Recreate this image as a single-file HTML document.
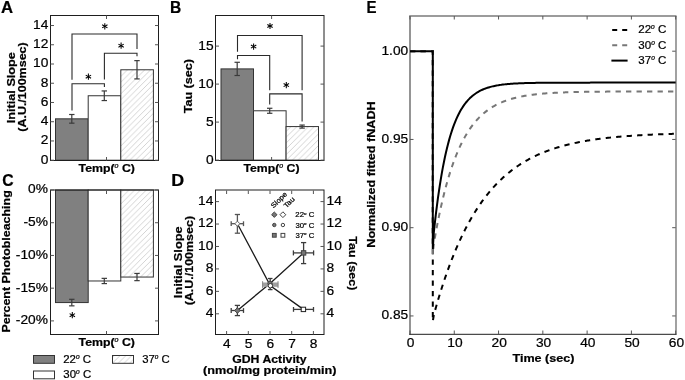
<!DOCTYPE html><html><head><meta charset="utf-8"><style>html,body{margin:0;padding:0;background:#fff;width:685px;height:380px;overflow:hidden} text{stroke:#000;stroke-width:0.22px}</style></head><body><svg width="685" height="380" viewBox="0 0 685 380" style="position:absolute;left:0;top:0;filter:grayscale(1)">
<defs><pattern id="hatch" patternUnits="userSpaceOnUse" width="5.8" height="5.8"><path d="M-1,1 L1,-1 M0,5.8 L5.8,0 M4.8,6.8 L6.8,4.8" stroke="#cfcfcf" stroke-width="0.9"/></pattern></defs>
<g style="font-family:'Liberation Sans', sans-serif">
<rect x="0" y="0" width="685" height="380" fill="#fff"/>
<rect x="55.50" y="118.83" width="32.70" height="41.37" fill="#fff" stroke="none" stroke-width="1" />
<rect x="55.50" y="118.83" width="32.70" height="41.37" fill="#808080" stroke="#333" stroke-width="1" />
<rect x="88.20" y="95.75" width="32.60" height="64.45" fill="#fff" stroke="none" stroke-width="1" />
<rect x="88.20" y="95.75" width="32.60" height="64.45" fill="#fff" stroke="#333" stroke-width="1" />
<rect x="120.80" y="69.77" width="32.60" height="90.43" fill="#fff" stroke="none" stroke-width="1" />
<rect x="120.80" y="69.77" width="32.60" height="90.43" fill="url(#hatch)" stroke="#333" stroke-width="1" />
<line x1="71.80" y1="114.50" x2="71.80" y2="123.16" stroke="#3a3a3a" stroke-width="1.2" />
<line x1="69.10" y1="114.50" x2="74.50" y2="114.50" stroke="#3a3a3a" stroke-width="1.2" />
<line x1="69.10" y1="123.16" x2="74.50" y2="123.16" stroke="#3a3a3a" stroke-width="1.2" />
<line x1="104.30" y1="90.94" x2="104.30" y2="100.56" stroke="#3a3a3a" stroke-width="1.2" />
<line x1="101.60" y1="90.94" x2="107.00" y2="90.94" stroke="#3a3a3a" stroke-width="1.2" />
<line x1="101.60" y1="100.56" x2="107.00" y2="100.56" stroke="#3a3a3a" stroke-width="1.2" />
<line x1="137.00" y1="60.63" x2="137.00" y2="78.91" stroke="#3a3a3a" stroke-width="1.2" />
<line x1="134.30" y1="60.63" x2="139.70" y2="60.63" stroke="#3a3a3a" stroke-width="1.2" />
<line x1="134.30" y1="78.91" x2="139.70" y2="78.91" stroke="#3a3a3a" stroke-width="1.2" />
<polyline points="72.00,79.80 72.00,34.00 137.00,34.00 137.00,49.00" fill="none" stroke="#2a2a2a" stroke-width="1.1" />
<polyline points="104.40,79.60 104.40,53.20 137.00,53.20 137.00,56.30" fill="none" stroke="#2a2a2a" stroke-width="1.1" />
<polyline points="72.00,110.60 72.00,83.70 104.40,83.70 104.40,87.00" fill="none" stroke="#2a2a2a" stroke-width="1.1" />
<line x1="104.80" y1="23.20" x2="104.80" y2="29.40" stroke="#000" stroke-width="1.05" />
<line x1="102.12" y1="24.75" x2="107.48" y2="27.85" stroke="#000" stroke-width="1.05" />
<line x1="107.48" y1="24.75" x2="102.12" y2="27.85" stroke="#000" stroke-width="1.05" />
<line x1="121.10" y1="42.60" x2="121.10" y2="48.80" stroke="#000" stroke-width="1.05" />
<line x1="118.42" y1="44.15" x2="123.78" y2="47.25" stroke="#000" stroke-width="1.05" />
<line x1="123.78" y1="44.15" x2="118.42" y2="47.25" stroke="#000" stroke-width="1.05" />
<line x1="88.40" y1="73.60" x2="88.40" y2="79.80" stroke="#000" stroke-width="1.05" />
<line x1="85.72" y1="75.15" x2="91.08" y2="78.25" stroke="#000" stroke-width="1.05" />
<line x1="91.08" y1="75.15" x2="85.72" y2="78.25" stroke="#000" stroke-width="1.05" />
<rect x="50.50" y="15.50" width="108.00" height="145.00" fill="none" stroke="#1e1e1e" stroke-width="1" />
<line x1="50.50" y1="160.20" x2="54.00" y2="160.20" stroke="#555" stroke-width="1" />
<line x1="158.50" y1="160.20" x2="155.00" y2="160.20" stroke="#555" stroke-width="1" />
<text x="0" y="0" font-size="12.5" text-anchor="end" fill="#000" transform="matrix(1.1,0,0,1,48.30,163.60)">0</text>
<line x1="50.50" y1="140.96" x2="54.00" y2="140.96" stroke="#555" stroke-width="1" />
<line x1="158.50" y1="140.96" x2="155.00" y2="140.96" stroke="#555" stroke-width="1" />
<text x="0" y="0" font-size="12.5" text-anchor="end" fill="#000" transform="matrix(1.1,0,0,1,48.30,144.36)">2</text>
<line x1="50.50" y1="121.72" x2="54.00" y2="121.72" stroke="#555" stroke-width="1" />
<line x1="158.50" y1="121.72" x2="155.00" y2="121.72" stroke="#555" stroke-width="1" />
<text x="0" y="0" font-size="12.5" text-anchor="end" fill="#000" transform="matrix(1.1,0,0,1,48.30,125.12)">4</text>
<line x1="50.50" y1="102.48" x2="54.00" y2="102.48" stroke="#555" stroke-width="1" />
<line x1="158.50" y1="102.48" x2="155.00" y2="102.48" stroke="#555" stroke-width="1" />
<text x="0" y="0" font-size="12.5" text-anchor="end" fill="#000" transform="matrix(1.1,0,0,1,48.30,105.88)">6</text>
<line x1="50.50" y1="83.24" x2="54.00" y2="83.24" stroke="#555" stroke-width="1" />
<line x1="158.50" y1="83.24" x2="155.00" y2="83.24" stroke="#555" stroke-width="1" />
<text x="0" y="0" font-size="12.5" text-anchor="end" fill="#000" transform="matrix(1.1,0,0,1,48.30,86.64)">8</text>
<line x1="50.50" y1="64.00" x2="54.00" y2="64.00" stroke="#555" stroke-width="1" />
<line x1="158.50" y1="64.00" x2="155.00" y2="64.00" stroke="#555" stroke-width="1" />
<text x="0" y="0" font-size="12.5" text-anchor="end" fill="#000" transform="matrix(1.1,0,0,1,48.30,67.40)">10</text>
<line x1="50.50" y1="44.76" x2="54.00" y2="44.76" stroke="#555" stroke-width="1" />
<line x1="158.50" y1="44.76" x2="155.00" y2="44.76" stroke="#555" stroke-width="1" />
<text x="0" y="0" font-size="12.5" text-anchor="end" fill="#000" transform="matrix(1.1,0,0,1,48.30,48.16)">12</text>
<line x1="50.50" y1="25.52" x2="54.00" y2="25.52" stroke="#555" stroke-width="1" />
<line x1="158.50" y1="25.52" x2="155.00" y2="25.52" stroke="#555" stroke-width="1" />
<text x="0" y="0" font-size="12.5" text-anchor="end" fill="#000" transform="matrix(1.1,0,0,1,48.30,28.92)">14</text>
<line x1="106.50" y1="160.50" x2="106.50" y2="157.00" stroke="#555" stroke-width="1" />
<line x1="106.50" y1="15.50" x2="106.50" y2="19.00" stroke="#555" stroke-width="1" />
<text x="0" y="0" font-size="16.80" font-weight="bold" fill="#000" transform="matrix(0.9950,0,0,1,0.98,12.50)" stroke="#000" stroke-width="0.35">A</text>
<text x="0" y="0" font-size="10.90" font-weight="bold" fill="#000" transform="matrix(0,-1.1639,1,0,14.80,123.22)" >Initial Slope</text>
<text x="0" y="0" font-size="10.90" font-weight="bold" fill="#000" transform="matrix(0,-1.1445,1,0,26.30,131.72)" >(A.U./100msec)</text>
<text x="0" y="0" font-size="10.90" fill="#000" transform="matrix(1.1293,0,0,1,78.58,171.80)"><tspan font-weight="bold" font-size="10.90" dy="0.00">Temp(</tspan><tspan font-weight="normal" font-style="italic" font-size="6.32" dy="-3.92">o</tspan><tspan font-weight="bold" font-size="10.90" dy="3.92"> C)</tspan></text>
<rect x="221.00" y="68.90" width="32.50" height="91.20" fill="#fff" stroke="none" stroke-width="1" />
<rect x="221.00" y="68.90" width="32.50" height="91.20" fill="#808080" stroke="#333" stroke-width="1" />
<rect x="253.50" y="110.78" width="32.60" height="49.32" fill="#fff" stroke="none" stroke-width="1" />
<rect x="253.50" y="110.78" width="32.60" height="49.32" fill="#fff" stroke="#333" stroke-width="1" />
<rect x="286.10" y="126.58" width="32.40" height="33.52" fill="#fff" stroke="none" stroke-width="1" />
<rect x="286.10" y="126.58" width="32.40" height="33.52" fill="url(#hatch)" stroke="#333" stroke-width="1" />
<line x1="237.20" y1="62.29" x2="237.20" y2="75.51" stroke="#3a3a3a" stroke-width="1.2" />
<line x1="234.50" y1="62.29" x2="239.90" y2="62.29" stroke="#3a3a3a" stroke-width="1.2" />
<line x1="234.50" y1="75.51" x2="239.90" y2="75.51" stroke="#3a3a3a" stroke-width="1.2" />
<line x1="269.70" y1="108.27" x2="269.70" y2="113.28" stroke="#3a3a3a" stroke-width="1.2" />
<line x1="267.00" y1="108.27" x2="272.40" y2="108.27" stroke="#3a3a3a" stroke-width="1.2" />
<line x1="267.00" y1="113.28" x2="272.40" y2="113.28" stroke="#3a3a3a" stroke-width="1.2" />
<line x1="302.10" y1="125.06" x2="302.10" y2="128.10" stroke="#3a3a3a" stroke-width="1.2" />
<line x1="299.40" y1="125.06" x2="304.80" y2="125.06" stroke="#3a3a3a" stroke-width="1.2" />
<line x1="299.40" y1="128.10" x2="304.80" y2="128.10" stroke="#3a3a3a" stroke-width="1.2" />
<polyline points="237.50,51.80 237.50,35.50 302.10,35.50 302.10,90.30" fill="none" stroke="#2a2a2a" stroke-width="1.1" />
<polyline points="237.50,59.20 237.50,55.50 269.70,55.50 269.70,90.30" fill="none" stroke="#2a2a2a" stroke-width="1.1" />
<polyline points="269.70,104.50 269.70,93.90 302.10,93.90 302.10,121.50" fill="none" stroke="#2a2a2a" stroke-width="1.1" />
<line x1="270.00" y1="22.90" x2="270.00" y2="29.10" stroke="#000" stroke-width="1.05" />
<line x1="267.32" y1="24.45" x2="272.68" y2="27.55" stroke="#000" stroke-width="1.05" />
<line x1="272.68" y1="24.45" x2="267.32" y2="27.55" stroke="#000" stroke-width="1.05" />
<line x1="253.60" y1="43.50" x2="253.60" y2="49.70" stroke="#000" stroke-width="1.05" />
<line x1="250.92" y1="45.05" x2="256.28" y2="48.15" stroke="#000" stroke-width="1.05" />
<line x1="256.28" y1="45.05" x2="250.92" y2="48.15" stroke="#000" stroke-width="1.05" />
<line x1="286.30" y1="82.00" x2="286.30" y2="88.20" stroke="#000" stroke-width="1.05" />
<line x1="283.62" y1="83.55" x2="288.98" y2="86.65" stroke="#000" stroke-width="1.05" />
<line x1="288.98" y1="83.55" x2="283.62" y2="86.65" stroke="#000" stroke-width="1.05" />
<rect x="215.50" y="15.50" width="108.50" height="145.00" fill="none" stroke="#1e1e1e" stroke-width="1" />
<line x1="215.50" y1="160.10" x2="219.00" y2="160.10" stroke="#555" stroke-width="1" />
<line x1="324.00" y1="160.10" x2="320.50" y2="160.10" stroke="#555" stroke-width="1" />
<text x="0" y="0" font-size="12.5" text-anchor="end" fill="#000" transform="matrix(1.1,0,0,1,213.60,163.50)">0</text>
<line x1="215.50" y1="122.10" x2="219.00" y2="122.10" stroke="#555" stroke-width="1" />
<line x1="324.00" y1="122.10" x2="320.50" y2="122.10" stroke="#555" stroke-width="1" />
<text x="0" y="0" font-size="12.5" text-anchor="end" fill="#000" transform="matrix(1.1,0,0,1,213.60,125.50)">5</text>
<line x1="215.50" y1="84.10" x2="219.00" y2="84.10" stroke="#555" stroke-width="1" />
<line x1="324.00" y1="84.10" x2="320.50" y2="84.10" stroke="#555" stroke-width="1" />
<text x="0" y="0" font-size="12.5" text-anchor="end" fill="#000" transform="matrix(1.1,0,0,1,213.60,87.50)">10</text>
<line x1="215.50" y1="46.10" x2="219.00" y2="46.10" stroke="#555" stroke-width="1" />
<line x1="324.00" y1="46.10" x2="320.50" y2="46.10" stroke="#555" stroke-width="1" />
<text x="0" y="0" font-size="12.5" text-anchor="end" fill="#000" transform="matrix(1.1,0,0,1,213.60,49.50)">15</text>
<line x1="271.60" y1="160.50" x2="271.60" y2="157.00" stroke="#555" stroke-width="1" />
<line x1="271.60" y1="15.50" x2="271.60" y2="19.00" stroke="#555" stroke-width="1" />
<text x="0" y="0" font-size="16.80" font-weight="bold" fill="#000" transform="matrix(0.9270,0,0,1,170.09,12.50)" stroke="#000" stroke-width="0.35">B</text>
<text x="0" y="0" font-size="10.90" font-weight="bold" fill="#000" transform="matrix(0,-1.1565,1,0,192.00,113.33)" >Tau (sec)</text>
<text x="0" y="0" font-size="10.90" fill="#000" transform="matrix(1.1232,0,0,1,243.48,171.70)"><tspan font-weight="bold" font-size="10.90" dy="0.00">Temp(</tspan><tspan font-weight="normal" font-style="italic" font-size="6.32" dy="-3.92">o</tspan><tspan font-weight="bold" font-size="10.90" dy="3.92"> C)</tspan></text>
<rect x="55.50" y="190.00" width="32.70" height="112.57" fill="#fff" stroke="none" stroke-width="1" />
<rect x="55.50" y="190.00" width="32.70" height="112.57" fill="#808080" stroke="#333" stroke-width="1" />
<rect x="88.20" y="190.00" width="32.60" height="90.98" fill="#fff" stroke="none" stroke-width="1" />
<rect x="88.20" y="190.00" width="32.60" height="90.98" fill="#fff" stroke="#333" stroke-width="1" />
<rect x="120.80" y="190.00" width="32.60" height="87.05" fill="#fff" stroke="none" stroke-width="1" />
<rect x="120.80" y="190.00" width="32.60" height="87.05" fill="url(#hatch)" stroke="#333" stroke-width="1" />
<line x1="71.80" y1="299.30" x2="71.80" y2="305.85" stroke="#3a3a3a" stroke-width="1.2" />
<line x1="69.10" y1="299.30" x2="74.50" y2="299.30" stroke="#3a3a3a" stroke-width="1.2" />
<line x1="69.10" y1="305.85" x2="74.50" y2="305.85" stroke="#3a3a3a" stroke-width="1.2" />
<line x1="104.30" y1="278.36" x2="104.30" y2="283.59" stroke="#3a3a3a" stroke-width="1.2" />
<line x1="101.60" y1="278.36" x2="107.00" y2="278.36" stroke="#3a3a3a" stroke-width="1.2" />
<line x1="101.60" y1="283.59" x2="107.00" y2="283.59" stroke="#3a3a3a" stroke-width="1.2" />
<line x1="137.00" y1="273.45" x2="137.00" y2="280.65" stroke="#3a3a3a" stroke-width="1.2" />
<line x1="134.30" y1="273.45" x2="139.70" y2="273.45" stroke="#3a3a3a" stroke-width="1.2" />
<line x1="134.30" y1="280.65" x2="139.70" y2="280.65" stroke="#3a3a3a" stroke-width="1.2" />
<line x1="72.30" y1="312.10" x2="72.30" y2="318.30" stroke="#000" stroke-width="1.05" />
<line x1="69.62" y1="313.65" x2="74.98" y2="316.75" stroke="#000" stroke-width="1.05" />
<line x1="74.98" y1="313.65" x2="69.62" y2="316.75" stroke="#000" stroke-width="1.05" />
<rect x="50.50" y="190.00" width="108.00" height="144.50" fill="none" stroke="#1e1e1e" stroke-width="1" />
<line x1="50.50" y1="190.00" x2="54.00" y2="190.00" stroke="#555" stroke-width="1" />
<line x1="158.50" y1="190.00" x2="155.00" y2="190.00" stroke="#555" stroke-width="1" />
<text x="0" y="0" font-size="12.5" text-anchor="end" fill="#000" transform="matrix(1.1,0,0,1,47.90,193.40)">0%</text>
<line x1="50.50" y1="222.72" x2="54.00" y2="222.72" stroke="#555" stroke-width="1" />
<line x1="158.50" y1="222.72" x2="155.00" y2="222.72" stroke="#555" stroke-width="1" />
<text x="0" y="0" font-size="12.5" text-anchor="end" fill="#000" transform="matrix(1.1,0,0,1,47.90,226.12)">-5%</text>
<line x1="50.50" y1="255.45" x2="54.00" y2="255.45" stroke="#555" stroke-width="1" />
<line x1="158.50" y1="255.45" x2="155.00" y2="255.45" stroke="#555" stroke-width="1" />
<text x="0" y="0" font-size="12.5" text-anchor="end" fill="#000" transform="matrix(1.1,0,0,1,47.90,258.85)">-10%</text>
<line x1="50.50" y1="288.18" x2="54.00" y2="288.18" stroke="#555" stroke-width="1" />
<line x1="158.50" y1="288.18" x2="155.00" y2="288.18" stroke="#555" stroke-width="1" />
<text x="0" y="0" font-size="12.5" text-anchor="end" fill="#000" transform="matrix(1.1,0,0,1,47.90,291.57)">-15%</text>
<line x1="50.50" y1="320.90" x2="54.00" y2="320.90" stroke="#555" stroke-width="1" />
<line x1="158.50" y1="320.90" x2="155.00" y2="320.90" stroke="#555" stroke-width="1" />
<text x="0" y="0" font-size="12.5" text-anchor="end" fill="#000" transform="matrix(1.1,0,0,1,47.90,324.30)">-20%</text>
<line x1="106.50" y1="334.50" x2="106.50" y2="331.00" stroke="#555" stroke-width="1" />
<line x1="106.50" y1="190.50" x2="106.50" y2="194.00" stroke="#555" stroke-width="1" />
<text x="0" y="0" font-size="16.80" font-weight="bold" fill="#000" transform="matrix(0.9360,0,0,1,2.37,185.50)" stroke="#000" stroke-width="0.35">C</text>
<text x="0" y="0" font-size="10.90" font-weight="bold" fill="#000" transform="matrix(0,-1.1408,1,0,9.60,332.51)" >Percent Photobleaching</text>
<text x="0" y="0" font-size="10.90" fill="#000" transform="matrix(1.1293,0,0,1,78.58,345.80)"><tspan font-weight="bold" font-size="10.90" dy="0.00">Temp(</tspan><tspan font-weight="normal" font-style="italic" font-size="6.32" dy="-3.92">o</tspan><tspan font-weight="bold" font-size="10.90" dy="3.92"> C)</tspan></text>
<rect x="33.50" y="355.50" width="21.00" height="7.80" fill="#808080" stroke="#333" stroke-width="1" />
<rect x="33.50" y="371.00" width="21.00" height="7.80" fill="#fff" stroke="#333" stroke-width="1" />
<rect x="112.50" y="355.50" width="21.00" height="7.80" fill="#fff" stroke="none" stroke-width="1" />
<rect x="112.50" y="355.50" width="21.00" height="7.80" fill="url(#hatch)" stroke="#333" stroke-width="1" />
<text x="0" y="0" font-size="11.00" fill="#000" transform="matrix(1.0428,0,0,1,63.23,362.50)"><tspan font-weight="normal" font-size="11.00" dy="0.00">22</tspan><tspan font-weight="normal" font-style="italic" font-size="6.38" dy="-3.96">o</tspan><tspan font-weight="normal" font-size="11.00" dy="3.96"> C</tspan></text>
<text x="0" y="0" font-size="11.00" fill="#000" transform="matrix(1.0384,0,0,1,63.34,378.00)"><tspan font-weight="normal" font-size="11.00" dy="0.00">30</tspan><tspan font-weight="normal" font-style="italic" font-size="6.38" dy="-3.96">o</tspan><tspan font-weight="normal" font-size="11.00" dy="3.96"> C</tspan></text>
<text x="0" y="0" font-size="11.00" fill="#000" transform="matrix(1.0307,0,0,1,142.15,362.50)"><tspan font-weight="normal" font-size="11.00" dy="0.00">37</tspan><tspan font-weight="normal" font-style="italic" font-size="6.38" dy="-3.96">o</tspan><tspan font-weight="normal" font-size="11.00" dy="3.96"> C</tspan></text>
<rect x="215.50" y="190.00" width="108.50" height="144.50" fill="none" stroke="#1e1e1e" stroke-width="1" />
<line x1="226.60" y1="334.50" x2="226.60" y2="331.00" stroke="#555" stroke-width="1" />
<line x1="226.60" y1="190.50" x2="226.60" y2="194.00" stroke="#555" stroke-width="1" />
<text x="0" y="0" font-size="12.5" text-anchor="middle" fill="#000" transform="matrix(1.1,0,0,1,226.90,347.50)">4</text>
<line x1="248.30" y1="334.50" x2="248.30" y2="331.00" stroke="#555" stroke-width="1" />
<line x1="248.30" y1="190.50" x2="248.30" y2="194.00" stroke="#555" stroke-width="1" />
<text x="0" y="0" font-size="12.5" text-anchor="middle" fill="#000" transform="matrix(1.1,0,0,1,248.60,347.50)">5</text>
<line x1="270.00" y1="334.50" x2="270.00" y2="331.00" stroke="#555" stroke-width="1" />
<line x1="270.00" y1="190.50" x2="270.00" y2="194.00" stroke="#555" stroke-width="1" />
<text x="0" y="0" font-size="12.5" text-anchor="middle" fill="#000" transform="matrix(1.1,0,0,1,270.30,347.50)">6</text>
<line x1="291.70" y1="334.50" x2="291.70" y2="331.00" stroke="#555" stroke-width="1" />
<line x1="291.70" y1="190.50" x2="291.70" y2="194.00" stroke="#555" stroke-width="1" />
<text x="0" y="0" font-size="12.5" text-anchor="middle" fill="#000" transform="matrix(1.1,0,0,1,292.00,347.50)">7</text>
<line x1="313.40" y1="334.50" x2="313.40" y2="331.00" stroke="#555" stroke-width="1" />
<line x1="313.40" y1="190.50" x2="313.40" y2="194.00" stroke="#555" stroke-width="1" />
<text x="0" y="0" font-size="12.5" text-anchor="middle" fill="#000" transform="matrix(1.1,0,0,1,313.70,347.50)">8</text>
<line x1="215.50" y1="313.80" x2="219.00" y2="313.80" stroke="#555" stroke-width="1" />
<line x1="324.00" y1="313.80" x2="320.50" y2="313.80" stroke="#555" stroke-width="1" />
<text x="0" y="0" font-size="12.5" text-anchor="end" fill="#000" transform="matrix(1.1,0,0,1,213.40,317.20)">4</text>
<text x="0" y="0" font-size="12.5" text-anchor="start" fill="#000" transform="matrix(1.1,0,0,1,326.60,317.20)">4</text>
<line x1="215.50" y1="291.36" x2="219.00" y2="291.36" stroke="#555" stroke-width="1" />
<line x1="324.00" y1="291.36" x2="320.50" y2="291.36" stroke="#555" stroke-width="1" />
<text x="0" y="0" font-size="12.5" text-anchor="end" fill="#000" transform="matrix(1.1,0,0,1,213.40,294.76)">6</text>
<text x="0" y="0" font-size="12.5" text-anchor="start" fill="#000" transform="matrix(1.1,0,0,1,326.60,294.76)">6</text>
<line x1="215.50" y1="268.92" x2="219.00" y2="268.92" stroke="#555" stroke-width="1" />
<line x1="324.00" y1="268.92" x2="320.50" y2="268.92" stroke="#555" stroke-width="1" />
<text x="0" y="0" font-size="12.5" text-anchor="end" fill="#000" transform="matrix(1.1,0,0,1,213.40,272.32)">8</text>
<text x="0" y="0" font-size="12.5" text-anchor="start" fill="#000" transform="matrix(1.1,0,0,1,326.60,272.32)">8</text>
<line x1="215.50" y1="246.48" x2="219.00" y2="246.48" stroke="#555" stroke-width="1" />
<line x1="324.00" y1="246.48" x2="320.50" y2="246.48" stroke="#555" stroke-width="1" />
<text x="0" y="0" font-size="12.5" text-anchor="end" fill="#000" transform="matrix(1.1,0,0,1,213.40,249.88)">10</text>
<text x="0" y="0" font-size="12.5" text-anchor="start" fill="#000" transform="matrix(1.1,0,0,1,326.60,249.88)">10</text>
<line x1="215.50" y1="224.04" x2="219.00" y2="224.04" stroke="#555" stroke-width="1" />
<line x1="324.00" y1="224.04" x2="320.50" y2="224.04" stroke="#555" stroke-width="1" />
<text x="0" y="0" font-size="12.5" text-anchor="end" fill="#000" transform="matrix(1.1,0,0,1,213.40,227.44)">12</text>
<text x="0" y="0" font-size="12.5" text-anchor="start" fill="#000" transform="matrix(1.1,0,0,1,326.60,227.44)">12</text>
<line x1="215.50" y1="201.60" x2="219.00" y2="201.60" stroke="#555" stroke-width="1" />
<line x1="324.00" y1="201.60" x2="320.50" y2="201.60" stroke="#555" stroke-width="1" />
<text x="0" y="0" font-size="12.5" text-anchor="end" fill="#000" transform="matrix(1.1,0,0,1,213.40,205.00)">14</text>
<text x="0" y="0" font-size="12.5" text-anchor="start" fill="#000" transform="matrix(1.1,0,0,1,326.60,205.00)">14</text>
<polyline points="237.40,310.50 270.00,283.40 303.60,252.90" fill="none" stroke="#1a1a1a" stroke-width="1.3" />
<polyline points="237.40,223.70 270.40,285.70 303.40,309.40" fill="none" stroke="#1a1a1a" stroke-width="1.3" />
<line x1="237.40" y1="305.40" x2="237.40" y2="315.60" stroke="#3c3c3c" stroke-width="1.3" />
<line x1="234.80" y1="305.40" x2="240.00" y2="305.40" stroke="#3c3c3c" stroke-width="1.3" />
<line x1="234.80" y1="315.60" x2="240.00" y2="315.60" stroke="#3c3c3c" stroke-width="1.3" />
<line x1="231.20" y1="310.50" x2="243.50" y2="310.50" stroke="#3c3c3c" stroke-width="1.3" />
<line x1="231.20" y1="308.10" x2="231.20" y2="312.90" stroke="#3c3c3c" stroke-width="1.3" />
<line x1="243.50" y1="308.10" x2="243.50" y2="312.90" stroke="#3c3c3c" stroke-width="1.3" />
<line x1="237.40" y1="214.50" x2="237.40" y2="233.20" stroke="#555" stroke-width="1.3" />
<line x1="234.80" y1="214.50" x2="240.00" y2="214.50" stroke="#555" stroke-width="1.3" />
<line x1="234.80" y1="233.20" x2="240.00" y2="233.20" stroke="#555" stroke-width="1.3" />
<line x1="231.20" y1="223.70" x2="243.50" y2="223.70" stroke="#555" stroke-width="1.3" />
<line x1="231.20" y1="221.30" x2="231.20" y2="226.10" stroke="#555" stroke-width="1.3" />
<line x1="243.50" y1="221.30" x2="243.50" y2="226.10" stroke="#555" stroke-width="1.3" />
<rect x="262.20" y="282.50" width="16.10" height="4.30" fill="#a0a0a0" stroke="none" stroke-width="1" />
<line x1="262.60" y1="281.20" x2="262.60" y2="288.00" stroke="#888" stroke-width="1.0" />
<line x1="278.00" y1="281.20" x2="278.00" y2="288.00" stroke="#888" stroke-width="1.0" />
<line x1="270.20" y1="278.50" x2="270.20" y2="289.60" stroke="#3c3c3c" stroke-width="1.3" />
<line x1="267.90" y1="278.50" x2="272.50" y2="278.50" stroke="#3c3c3c" stroke-width="1.3" />
<line x1="267.90" y1="289.60" x2="272.50" y2="289.60" stroke="#3c3c3c" stroke-width="1.3" />
<line x1="303.60" y1="242.60" x2="303.60" y2="263.60" stroke="#3c3c3c" stroke-width="1.3" />
<line x1="301.00" y1="242.60" x2="306.20" y2="242.60" stroke="#3c3c3c" stroke-width="1.3" />
<line x1="301.00" y1="263.60" x2="306.20" y2="263.60" stroke="#3c3c3c" stroke-width="1.3" />
<line x1="293.40" y1="252.90" x2="313.60" y2="252.90" stroke="#3c3c3c" stroke-width="1.3" />
<line x1="293.40" y1="250.40" x2="293.40" y2="255.40" stroke="#3c3c3c" stroke-width="1.3" />
<line x1="313.60" y1="250.40" x2="313.60" y2="255.40" stroke="#3c3c3c" stroke-width="1.3" />
<line x1="293.50" y1="309.40" x2="313.50" y2="309.40" stroke="#3c3c3c" stroke-width="1.3" />
<line x1="293.50" y1="307.00" x2="293.50" y2="311.80" stroke="#3c3c3c" stroke-width="1.3" />
<line x1="313.50" y1="307.00" x2="313.50" y2="311.80" stroke="#3c3c3c" stroke-width="1.3" />
<path d="M237.40,307.70 L240.20,310.50 L237.40,313.30 L234.60,310.50 Z" fill="#777" stroke="#444" stroke-width="1"/>
<path d="M237.40,221.20 L239.90,223.70 L237.40,226.20 L234.90,223.70 Z" fill="#fff" stroke="#666" stroke-width="1"/>
<circle cx="270.00" cy="283.40" r="2.20" fill="#777" stroke="#444" stroke-width="1"/>
<circle cx="270.40" cy="285.70" r="2.20" fill="#fff" stroke="#333" stroke-width="1"/>
<rect x="301.40" y="250.70" width="4.40" height="4.40" fill="#777" stroke="#444" stroke-width="1" />
<rect x="301.20" y="307.20" width="4.40" height="4.40" fill="#fff" stroke="#222" stroke-width="1" />
<text x="0" y="0" font-size="7.0" transform="translate(273.6,208.6) rotate(-45) scale(1.1,1)">Slope</text>
<text x="0" y="0" font-size="7.0" transform="translate(286.4,208.5) rotate(-45) scale(1.1,1)">Tau</text>
<path d="M274.30,212.00 L277.00,214.70 L274.30,217.40 L271.60,214.70 Z" fill="#777" stroke="#444" stroke-width="1"/>
<path d="M282.90,211.80 L285.80,214.70 L282.90,217.60 L280.00,214.70 Z" fill="#fff" stroke="#444" stroke-width="1"/>
<circle cx="274.30" cy="225.00" r="1.70" fill="#777" stroke="#444" stroke-width="1"/>
<circle cx="282.90" cy="225.00" r="1.70" fill="#fff" stroke="#444" stroke-width="1"/>
<rect x="272.40" y="233.40" width="3.80" height="3.80" fill="#777" stroke="#444" stroke-width="1" />
<rect x="281.00" y="233.40" width="3.80" height="3.80" fill="#fff" stroke="#444" stroke-width="1" />
<text x="0" y="0" font-size="7.40" fill="#000" transform="matrix(1.0546,0,0,1,295.31,217.30)"><tspan font-weight="normal" font-size="7.40" dy="0.00">22</tspan><tspan font-weight="normal" font-style="italic" font-size="4.29" dy="-2.66">o</tspan><tspan font-weight="normal" font-size="7.40" dy="2.66"> C</tspan></text>
<text x="0" y="0" font-size="7.40" fill="#000" transform="matrix(1.0501,0,0,1,295.39,227.60)"><tspan font-weight="normal" font-size="7.40" dy="0.00">30</tspan><tspan font-weight="normal" font-style="italic" font-size="4.29" dy="-2.66">o</tspan><tspan font-weight="normal" font-size="7.40" dy="2.66"> C</tspan></text>
<text x="0" y="0" font-size="7.40" fill="#000" transform="matrix(1.0501,0,0,1,295.39,237.90)"><tspan font-weight="normal" font-size="7.40" dy="0.00">37</tspan><tspan font-weight="normal" font-style="italic" font-size="4.29" dy="-2.66">o</tspan><tspan font-weight="normal" font-size="7.40" dy="2.66"> C</tspan></text>
<text x="0" y="0" font-size="16.80" font-weight="bold" fill="#000" transform="matrix(1.0647,0,0,1,171.34,186.40)" stroke="#000" stroke-width="0.35">D</text>
<text x="0" y="0" font-size="10.90" font-weight="bold" fill="#000" transform="matrix(0,-1.1738,1,0,181.50,298.13)" >Initial Slope</text>
<text x="0" y="0" font-size="10.90" font-weight="bold" fill="#000" transform="matrix(0,-1.1445,1,0,193.00,305.32)" >(A.U./100msec)</text>
<text x="0" y="0" font-size="10.90" font-weight="bold" fill="#000" transform="matrix(0,1.1479,-1,0,348.50,236.37)" >Tau (sec)</text>
<text x="0" y="0" font-size="10.90" font-weight="bold" fill="#000" transform="matrix(1.1259,0,0,1,232.21,362.70)" >GDH Activity</text>
<text x="0" y="0" font-size="10.90" font-weight="bold" fill="#000" transform="matrix(1.1609,0,0,1,203.07,374.10)" >(nmol/mg protein/min)</text>
<line x1="410.00" y1="16.00" x2="410.00" y2="334.50" stroke="#7a7a7a" stroke-width="1.6" />
<line x1="676.00" y1="16.00" x2="676.00" y2="334.50" stroke="#7a7a7a" stroke-width="1.4" />
<line x1="409.20" y1="16.00" x2="676.50" y2="16.00" stroke="#7a7a7a" stroke-width="1.5" />
<line x1="409.20" y1="334.30" x2="676.50" y2="334.30" stroke="#1e1e1e" stroke-width="1" />
<line x1="410.00" y1="334.00" x2="410.00" y2="330.50" stroke="#555" stroke-width="1" />
<line x1="410.00" y1="16.00" x2="410.00" y2="19.50" stroke="#555" stroke-width="1" />
<text x="0" y="0" font-size="12.5" text-anchor="middle" fill="#000" transform="matrix(1.1,0,0,1,410.70,347.30)">0</text>
<line x1="454.28" y1="334.00" x2="454.28" y2="330.50" stroke="#555" stroke-width="1" />
<line x1="454.28" y1="16.00" x2="454.28" y2="19.50" stroke="#555" stroke-width="1" />
<text x="0" y="0" font-size="12.5" text-anchor="middle" fill="#000" transform="matrix(1.1,0,0,1,454.98,347.30)">10</text>
<line x1="498.56" y1="334.00" x2="498.56" y2="330.50" stroke="#555" stroke-width="1" />
<line x1="498.56" y1="16.00" x2="498.56" y2="19.50" stroke="#555" stroke-width="1" />
<text x="0" y="0" font-size="12.5" text-anchor="middle" fill="#000" transform="matrix(1.1,0,0,1,499.26,347.30)">20</text>
<line x1="542.84" y1="334.00" x2="542.84" y2="330.50" stroke="#555" stroke-width="1" />
<line x1="542.84" y1="16.00" x2="542.84" y2="19.50" stroke="#555" stroke-width="1" />
<text x="0" y="0" font-size="12.5" text-anchor="middle" fill="#000" transform="matrix(1.1,0,0,1,543.54,347.30)">30</text>
<line x1="587.12" y1="334.00" x2="587.12" y2="330.50" stroke="#555" stroke-width="1" />
<line x1="587.12" y1="16.00" x2="587.12" y2="19.50" stroke="#555" stroke-width="1" />
<text x="0" y="0" font-size="12.5" text-anchor="middle" fill="#000" transform="matrix(1.1,0,0,1,587.82,347.30)">40</text>
<line x1="631.40" y1="334.00" x2="631.40" y2="330.50" stroke="#555" stroke-width="1" />
<line x1="631.40" y1="16.00" x2="631.40" y2="19.50" stroke="#555" stroke-width="1" />
<text x="0" y="0" font-size="12.5" text-anchor="middle" fill="#000" transform="matrix(1.1,0,0,1,632.10,347.30)">50</text>
<line x1="675.68" y1="334.00" x2="675.68" y2="330.50" stroke="#555" stroke-width="1" />
<line x1="675.68" y1="16.00" x2="675.68" y2="19.50" stroke="#555" stroke-width="1" />
<text x="0" y="0" font-size="12.5" text-anchor="middle" fill="#000" transform="matrix(1.1,0,0,1,676.38,347.30)">60</text>
<line x1="410.00" y1="315.95" x2="413.50" y2="315.95" stroke="#555" stroke-width="1" />
<line x1="675.70" y1="315.95" x2="672.20" y2="315.95" stroke="#555" stroke-width="1" />
<text x="0" y="0" font-size="12.5" text-anchor="end" fill="#000" transform="matrix(1.1,0,0,1,408.20,319.35)">0.85</text>
<line x1="410.00" y1="227.70" x2="413.50" y2="227.70" stroke="#555" stroke-width="1" />
<line x1="675.70" y1="227.70" x2="672.20" y2="227.70" stroke="#555" stroke-width="1" />
<text x="0" y="0" font-size="12.5" text-anchor="end" fill="#000" transform="matrix(1.1,0,0,1,408.20,231.10)">0.90</text>
<line x1="410.00" y1="139.45" x2="413.50" y2="139.45" stroke="#555" stroke-width="1" />
<line x1="675.70" y1="139.45" x2="672.20" y2="139.45" stroke="#555" stroke-width="1" />
<text x="0" y="0" font-size="12.5" text-anchor="end" fill="#000" transform="matrix(1.1,0,0,1,408.20,142.85)">0.95</text>
<line x1="410.00" y1="51.20" x2="413.50" y2="51.20" stroke="#555" stroke-width="1" />
<line x1="675.70" y1="51.20" x2="672.20" y2="51.20" stroke="#555" stroke-width="1" />
<text x="0" y="0" font-size="12.5" text-anchor="end" fill="#000" transform="matrix(1.1,0,0,1,408.20,54.60)">1.00</text>
<polyline points="410.00,51.20 432.80,51.20 432.80,321.25 433.82,314.97 434.83,311.28 435.84,307.67 436.85,304.13 437.86,300.66 438.88,297.26 439.89,293.93 440.90,290.67 441.91,287.47 442.92,284.34 443.94,281.27 444.95,278.26 445.96,275.31 446.97,272.43 447.98,269.60 449.00,266.83 450.01,264.11 451.02,261.45 452.03,258.84 453.04,256.29 454.06,253.79 455.07,251.34 456.08,248.93 457.09,246.58 458.10,244.27 459.12,242.01 460.13,239.80 461.14,237.63 462.15,235.50 463.16,233.42 464.18,231.38 465.19,229.38 466.20,227.42 467.21,225.50 468.22,223.62 469.24,221.78 470.25,219.97 471.26,218.20 472.27,216.47 473.28,214.77 474.30,213.11 475.31,211.48 476.32,209.88 477.33,208.31 478.34,206.78 479.36,205.28 480.37,203.81 481.38,202.36 482.39,200.95 483.40,199.57 484.42,198.21 485.43,196.88 486.44,195.58 487.45,194.30 488.46,193.05 489.48,191.82 490.49,190.62 491.50,189.45 492.51,188.30 493.52,187.17 494.54,186.06 495.55,184.98 496.56,183.91 497.57,182.87 498.58,181.85 499.60,180.85 500.61,179.88 501.62,178.92 502.63,177.98 503.64,177.06 504.65,176.15 505.67,175.27 506.68,174.40 507.69,173.55 508.70,172.72 509.71,171.91 510.73,171.11 511.74,170.33 512.75,169.56 513.76,168.81 514.77,168.08 515.79,167.35 516.80,166.65 517.81,165.96 518.82,165.28 519.83,164.61 520.85,163.96 521.86,163.33 522.87,162.70 523.88,162.09 524.89,161.49 525.91,160.90 526.92,160.32 527.93,159.76 528.94,159.21 529.95,158.67 530.97,158.14 531.98,157.62 532.99,157.11 534.00,156.61 535.01,156.12 536.03,155.64 537.04,155.17 538.05,154.71 539.06,154.26 540.07,153.82 541.09,153.38 542.10,152.96 543.11,152.54 544.12,152.14 545.13,151.74 546.15,151.35 547.16,150.96 548.17,150.59 549.18,150.22 550.19,149.86 551.21,149.51 552.22,149.16 553.23,148.82 554.24,148.49 555.25,148.17 556.27,147.85 557.28,147.54 558.29,147.23 559.30,146.93 560.31,146.64 561.33,146.35 562.34,146.07 563.35,145.79 564.36,145.52 565.37,145.25 566.39,144.99 567.40,144.74 568.41,144.49 569.42,144.25 570.43,144.01 571.45,143.77 572.46,143.54 573.47,143.32 574.48,143.10 575.49,142.88 576.51,142.67 577.52,142.46 578.53,142.26 579.54,142.06 580.55,141.86 581.57,141.67 582.58,141.48 583.59,141.30 584.60,141.12 585.61,140.94 586.63,140.77 587.64,140.60 588.65,140.44 589.66,140.27 590.67,140.11 591.69,139.96 592.70,139.81 593.71,139.66 594.72,139.51 595.73,139.36 596.75,139.22 597.76,139.09 598.77,138.95 599.78,138.82 600.79,138.69 601.81,138.56 602.82,138.44 603.83,138.31 604.84,138.19 605.85,138.08 606.87,137.96 607.88,137.85 608.89,137.74 609.90,137.63 610.91,137.53 611.93,137.42 612.94,137.32 613.95,137.22 614.96,137.12 615.97,137.03 616.99,136.93 618.00,136.84 619.01,136.75 620.02,136.66 621.03,136.58 622.04,136.49 623.06,136.41 624.07,136.33 625.08,136.25 626.09,136.17 627.10,136.10 628.12,136.02 629.13,135.95 630.14,135.88 631.15,135.80 632.16,135.74 633.18,135.67 634.19,135.60 635.20,135.54 636.21,135.47 637.22,135.41 638.24,135.35 639.25,135.29 640.26,135.23 641.27,135.17 642.28,135.12 643.30,135.06 644.31,135.01 645.32,134.96 646.33,134.90 647.34,134.85 648.36,134.80 649.37,134.76 650.38,134.71 651.39,134.66 652.40,134.61 653.42,134.57 654.43,134.53 655.44,134.48 656.45,134.44 657.46,134.40 658.48,134.36 659.49,134.32 660.50,134.28 661.51,134.24 662.52,134.20 663.54,134.17 664.55,134.13 665.56,134.10 666.57,134.06 667.58,134.03 668.60,133.99 669.61,133.96 670.62,133.93 671.63,133.90 672.64,133.87 673.66,133.84 674.67,133.81 675.68,133.78" fill="none" stroke="#000" stroke-width="2.0" stroke-dasharray="5.3 5.2"/>
<polyline points="410.00,51.20 432.80,51.20 432.80,254.18 433.82,243.89 434.83,238.00 435.84,232.34 436.85,226.90 437.86,221.66 438.88,216.63 439.89,211.79 440.90,207.14 441.91,202.67 442.92,198.38 443.94,194.24 444.95,190.27 445.96,186.45 446.97,182.78 447.98,179.25 449.00,175.86 450.01,172.60 451.02,169.46 452.03,166.45 453.04,163.55 454.06,160.76 455.07,158.09 456.08,155.51 457.09,153.04 458.10,150.66 459.12,148.37 460.13,146.17 461.14,144.05 462.15,142.02 463.16,140.07 464.18,138.19 465.19,136.38 466.20,134.65 467.21,132.98 468.22,131.37 469.24,129.83 470.25,128.35 471.26,126.92 472.27,125.55 473.28,124.23 474.30,122.96 475.31,121.75 476.32,120.58 477.33,119.45 478.34,118.37 479.36,117.33 480.37,116.33 481.38,115.37 482.39,114.44 483.40,113.55 484.42,112.70 485.43,111.88 486.44,111.09 487.45,110.33 488.46,109.60 489.48,108.90 490.49,108.22 491.50,107.57 492.51,106.95 493.52,106.35 494.54,105.78 495.55,105.22 496.56,104.69 497.57,104.18 498.58,103.69 499.60,103.21 500.61,102.76 501.62,102.32 502.63,101.90 503.64,101.50 504.65,101.11 505.67,100.73 506.68,100.38 507.69,100.03 508.70,99.70 509.71,99.38 510.73,99.07 511.74,98.78 512.75,98.49 513.76,98.22 514.77,97.96 515.79,97.71 516.80,97.47 517.81,97.23 518.82,97.01 519.83,96.79 520.85,96.59 521.86,96.39 522.87,96.20 523.88,96.01 524.89,95.84 525.91,95.67 526.92,95.50 527.93,95.35 528.94,95.20 529.95,95.05 530.97,94.91 531.98,94.78 532.99,94.65 534.00,94.52 535.01,94.41 536.03,94.29 537.04,94.18 538.05,94.08 539.06,93.97 540.07,93.88 541.09,93.78 542.10,93.69 543.11,93.60 544.12,93.52 545.13,93.44 546.15,93.36 547.16,93.29 548.17,93.22 549.18,93.15 550.19,93.08 551.21,93.02 552.22,92.96 553.23,92.90 554.24,92.84 555.25,92.79 556.27,92.74 557.28,92.69 558.29,92.64 559.30,92.59 560.31,92.55 561.33,92.51 562.34,92.46 563.35,92.43 564.36,92.39 565.37,92.35 566.39,92.32 567.40,92.28 568.41,92.25 569.42,92.22 570.43,92.19 571.45,92.16 572.46,92.13 573.47,92.11 574.48,92.08 575.49,92.05 576.51,92.03 577.52,92.01 578.53,91.99 579.54,91.97 580.55,91.95 581.57,91.93 582.58,91.91 583.59,91.89 584.60,91.87 585.61,91.86 586.63,91.84 587.64,91.82 588.65,91.81 589.66,91.79 590.67,91.78 591.69,91.77 592.70,91.76 593.71,91.74 594.72,91.73 595.73,91.72 596.75,91.71 597.76,91.70 598.77,91.69 599.78,91.68 600.79,91.67 601.81,91.66 602.82,91.65 603.83,91.65 604.84,91.64 605.85,91.63 606.87,91.62 607.88,91.62 608.89,91.61 609.90,91.60 610.91,91.60 611.93,91.59 612.94,91.58 613.95,91.58 614.96,91.57 615.97,91.57 616.99,91.56 618.00,91.56 619.01,91.55 620.02,91.55 621.03,91.55 622.04,91.54 623.06,91.54 624.07,91.53 625.08,91.53 626.09,91.53 627.10,91.52 628.12,91.52 629.13,91.52 630.14,91.51 631.15,91.51 632.16,91.51 633.18,91.51 634.19,91.50 635.20,91.50 636.21,91.50 637.22,91.50 638.24,91.50 639.25,91.49 640.26,91.49 641.27,91.49 642.28,91.49 643.30,91.49 644.31,91.48 645.32,91.48 646.33,91.48 647.34,91.48 648.36,91.48 649.37,91.48 650.38,91.48 651.39,91.47 652.40,91.47 653.42,91.47 654.43,91.47 655.44,91.47 656.45,91.47 657.46,91.47 658.48,91.47 659.49,91.47 660.50,91.46 661.51,91.46 662.52,91.46 663.54,91.46 664.55,91.46 665.56,91.46 666.57,91.46 667.58,91.46 668.60,91.46 669.61,91.46 670.62,91.46 671.63,91.46 672.64,91.46 673.66,91.46 674.67,91.45 675.68,91.45" fill="none" stroke="#777" stroke-width="2.0" stroke-dasharray="5.3 5.2"/>
<polyline points="410.00,51.20 432.80,51.20 432.80,248.88 433.82,232.29 434.83,223.08 435.84,214.44 436.85,206.33 437.86,198.72 438.88,191.58 439.89,184.88 440.90,178.59 441.91,172.68 442.92,167.14 443.94,161.94 444.95,157.06 445.96,152.49 446.97,148.19 447.98,144.15 449.00,140.37 450.01,136.82 451.02,133.48 452.03,130.35 453.04,127.42 454.06,124.66 455.07,122.08 456.08,119.65 457.09,117.37 458.10,115.23 459.12,113.23 460.13,111.34 461.14,109.58 462.15,107.92 463.16,106.36 464.18,104.90 465.19,103.53 466.20,102.24 467.21,101.04 468.22,99.90 469.24,98.84 470.25,97.84 471.26,96.91 472.27,96.03 473.28,95.20 474.30,94.43 475.31,93.70 476.32,93.02 477.33,92.38 478.34,91.78 479.36,91.22 480.37,90.69 481.38,90.19 482.39,89.72 483.40,89.29 484.42,88.88 485.43,88.49 486.44,88.13 487.45,87.79 488.46,87.47 489.48,87.17 490.49,86.89 491.50,86.63 492.51,86.38 493.52,86.15 494.54,85.94 495.55,85.73 496.56,85.54 497.57,85.36 498.58,85.19 499.60,85.03 500.61,84.88 501.62,84.74 502.63,84.61 503.64,84.49 504.65,84.38 505.67,84.27 506.68,84.17 507.69,84.07 508.70,83.98 509.71,83.90 510.73,83.82 511.74,83.74 512.75,83.68 513.76,83.61 514.77,83.55 515.79,83.49 516.80,83.44 517.81,83.39 518.82,83.34 519.83,83.30 520.85,83.25 521.86,83.21 522.87,83.18 523.88,83.14 524.89,83.11 525.91,83.08 526.92,83.05 527.93,83.03 528.94,83.00 529.95,82.98 530.97,82.95 531.98,82.93 532.99,82.91 534.00,82.90 535.01,82.88 536.03,82.86 537.04,82.85 538.05,82.83 539.06,82.82 540.07,82.81 541.09,82.80 542.10,82.78 543.11,82.77 544.12,82.76 545.13,82.76 546.15,82.75 547.16,82.74 548.17,82.73 549.18,82.72 550.19,82.72 551.21,82.71 552.22,82.71 553.23,82.70 554.24,82.70 555.25,82.69 556.27,82.69 557.28,82.68 558.29,82.68 559.30,82.67 560.31,82.67 561.33,82.67 562.34,82.66 563.35,82.66 564.36,82.66 565.37,82.66 566.39,82.65 567.40,82.65 568.41,82.65 569.42,82.65 570.43,82.65 571.45,82.64 572.46,82.64 573.47,82.64 574.48,82.64 575.49,82.64 576.51,82.64 577.52,82.64 578.53,82.63 579.54,82.63 580.55,82.63 581.57,82.63 582.58,82.63 583.59,82.63 584.60,82.63 585.61,82.63 586.63,82.63 587.64,82.63 588.65,82.63 589.66,82.63 590.67,82.62 591.69,82.62 592.70,82.62 593.71,82.62 594.72,82.62 595.73,82.62 596.75,82.62 597.76,82.62 598.77,82.62 599.78,82.62 600.79,82.62 601.81,82.62 602.82,82.62 603.83,82.62 604.84,82.62 605.85,82.62 606.87,82.62 607.88,82.62 608.89,82.62 609.90,82.62 610.91,82.62 611.93,82.62 612.94,82.62 613.95,82.62 614.96,82.62 615.97,82.62 616.99,82.62 618.00,82.62 619.01,82.62 620.02,82.62 621.03,82.62 622.04,82.62 623.06,82.62 624.07,82.62 625.08,82.62 626.09,82.62 627.10,82.62 628.12,82.62 629.13,82.62 630.14,82.62 631.15,82.62 632.16,82.62 633.18,82.62 634.19,82.62 635.20,82.62 636.21,82.62 637.22,82.62 638.24,82.62 639.25,82.62 640.26,82.62 641.27,82.62 642.28,82.62 643.30,82.62 644.31,82.62 645.32,82.62 646.33,82.62 647.34,82.62 648.36,82.62 649.37,82.62 650.38,82.62 651.39,82.62 652.40,82.62 653.42,82.62 654.43,82.62 655.44,82.62 656.45,82.62 657.46,82.62 658.48,82.62 659.49,82.62 660.50,82.62 661.51,82.62 662.52,82.62 663.54,82.62 664.55,82.62 665.56,82.62 666.57,82.62 667.58,82.62 668.60,82.62 669.61,82.62 670.62,82.62 671.63,82.62 672.64,82.62 673.66,82.62 674.67,82.62 675.68,82.62" fill="none" stroke="#000" stroke-width="2.0" />
<line x1="612.20" y1="29.90" x2="627.20" y2="29.90" stroke="#000" stroke-width="2" stroke-dasharray="5 5"/>
<line x1="612.20" y1="45.20" x2="627.20" y2="45.20" stroke="#777" stroke-width="2" stroke-dasharray="5 5"/>
<line x1="611.40" y1="60.60" x2="627.60" y2="60.60" stroke="#000" stroke-width="2" />
<text x="0" y="0" font-size="11.30" fill="#000" transform="matrix(1.0265,0,0,1,638.22,33.10)"><tspan font-weight="normal" font-size="11.30" dy="0.00">22</tspan><tspan font-weight="normal" font-style="italic" font-size="6.55" dy="-4.07">o</tspan><tspan font-weight="normal" font-size="11.30" dy="4.07"> C</tspan></text>
<text x="0" y="0" font-size="11.30" fill="#000" transform="matrix(1.0221,0,0,1,638.34,48.80)"><tspan font-weight="normal" font-size="11.30" dy="0.00">30</tspan><tspan font-weight="normal" font-style="italic" font-size="6.55" dy="-4.07">o</tspan><tspan font-weight="normal" font-size="11.30" dy="4.07"> C</tspan></text>
<text x="0" y="0" font-size="11.30" fill="#000" transform="matrix(1.0221,0,0,1,638.34,64.10)"><tspan font-weight="normal" font-size="11.30" dy="0.00">37</tspan><tspan font-weight="normal" font-style="italic" font-size="6.55" dy="-4.07">o</tspan><tspan font-weight="normal" font-size="11.30" dy="4.07"> C</tspan></text>
<text x="0" y="0" font-size="16.80" font-weight="bold" fill="#000" transform="matrix(0.8955,0,0,1,366.42,12.50)" stroke="#000" stroke-width="0.35">E</text>
<text x="0" y="0" font-size="10.60" font-weight="bold" fill="#000" transform="matrix(0,-1.1899,1,0,375.20,247.72)" >Normalized fitted fNADH</text>
<text x="0" y="0" font-size="10.70" font-weight="bold" fill="#000" transform="matrix(1.1725,0,0,1,512.57,362.20)" >Time (sec)</text>
</g></svg></body></html>
